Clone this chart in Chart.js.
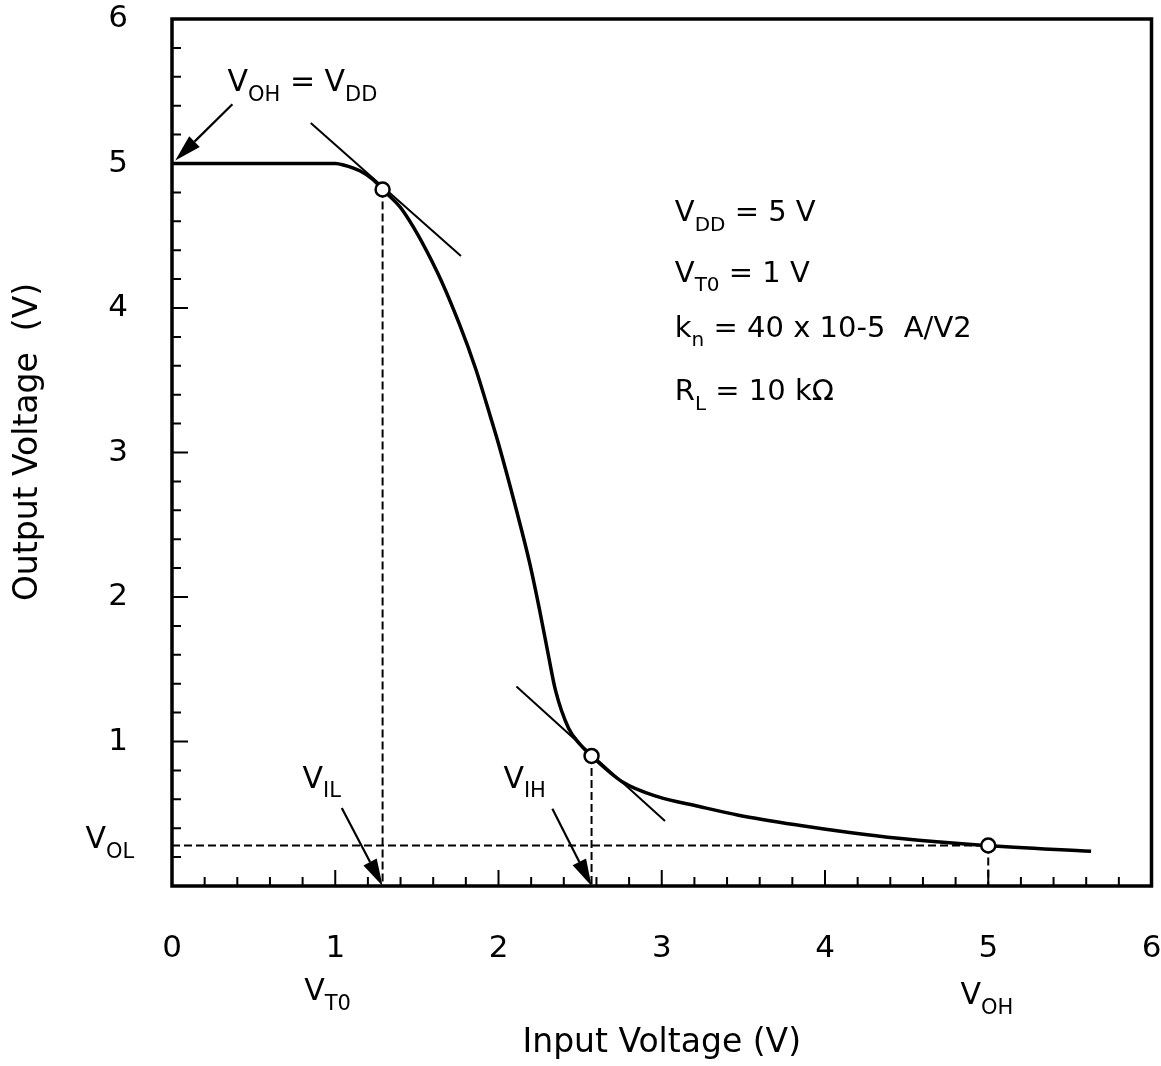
<!DOCTYPE html>
<html>
<head>
<meta charset="utf-8">
<script src="https://cdn.jsdelivr.net/npm/chart.js@4.4.1/dist/chart.umd.min.js"></script>
<style>
    html, body { margin: 0; padding: 0; background: #fff; }
</style>
</head>
<body>
<canvas id="vtc" width="1161" height="1066"></canvas>
<script>
const FONT = 'DejaVu Sans';

// Voltage transfer characteristic
const vin  = [0, 0.5, 1.0, 1.05, 1.15, 1.23, 1.29, 1.41, 1.62, 1.76, 1.86, 1.95, 2.0, 2.11, 2.19, 2.25, 2.30, 2.35, 2.43, 2.50, 2.57, 2.76, 2.97, 3.23, 3.47, 3.84, 4.15, 4.45, 4.98, 5.63];
const vout = [5.0, 5.0, 5.0, 4.99, 4.95, 4.89, 4.82, 4.68, 4.26, 3.89, 3.58, 3.25, 3.06, 2.60, 2.24, 1.92, 1.63, 1.35, 1.09, 0.98, 0.90, 0.72, 0.62, 0.55, 0.49, 0.42, 0.37, 0.33, 0.28, 0.24];

// slope -1 tangents at V_IL and V_IH
const tanILx = [0.85, 1.77];
const tanILy = [5.28, 4.36];
const tanIHx = [2.11, 3.02];
const tanIHy = [1.38, 0.45];

// critical points: V_IL, V_IH, V_OH
const critX = [1.29, 2.57, 5.0];
const critY = [4.82, 0.90, 0.28];
const VOL = 0.28;

const xTickLabels = ['0', '1', '2', '3', '4', '5', '6'];
const yTickLabels = ['', '1', '2', '3', '4', '5', '6'];

// annotations (data units)
const labels = [
    { text: 'V_{OH} = V_{DD}', x: 0.34, y: 5.50, size: 30 },
    { text: 'V_{DD} = 5 V', x: 3.08, y: 4.60, size: 29 },
    { text: 'V_{T0} = 1 V', x: 3.08, y: 4.18, size: 29 },
    { text: 'k_{n} = 40 x 10-5  A/V2', x: 3.08, y: 3.80, size: 29 },
    { text: 'R_{L} = 10 kΩ', x: 3.08, y: 3.36, size: 29 },
    { text: 'V_{IL}', x: 0.80, y: 0.68, size: 30 },
    { text: 'V_{IH}', x: 2.03, y: 0.68, size: 30 },
    { text: 'V_{OL}', x: -0.53, y: 0.26, size: 30 },
    { text: 'V_{T0}', x: 0.81, y: -0.79, size: 30 },
    { text: 'V_{OH}', x: 4.83, y: -0.82, size: 30 }
];
const arrows = [
    { from: [0.37, 5.41], to: [0.02, 5.02] },
    { from: [1.04, 0.54], to: [1.29, 0.0] },
    { from: [2.33, 0.535], to: [2.57, 0.0] }
];

const pts = (xs, ys) => xs.map((x, i) => ({ x: x, y: ys[i] }));

// text with _{sub} parts
function drawRich(ctx, str, x, y, size) {
    const subSize = Math.round(size * 0.7);
    const bits = str.split(/_\{([^}]*)\}/);
    bits.forEach((b, i) => {
        if (!b) return;
        const sub = i % 2 === 1;
        ctx.font = `${sub ? subSize : size}px "${FONT}"`;
        ctx.fillText(b, x, sub ? y + size * 0.32 : y);
        x += ctx.measureText(b).width;
    });
}

// keep the plot box fixed; tick padding should not eat into it
function noPad(s) {
    s.paddingTop = 0; s.paddingBottom = 0;
    s.paddingLeft = 0; s.paddingRight = 0;
}

const overlay = {
    id: 'overlay',
    beforeDraw(chart) {
        const ctx = chart.ctx;
        ctx.save();
        ctx.fillStyle = '#fff';
        ctx.fillRect(0, 0, chart.width, chart.height);
        ctx.restore();
    },
    afterDatasetsDraw(chart) {
        const ctx = chart.ctx;
        const { left, right, top, bottom } = chart.chartArea;
        const xs = chart.scales.x, ys = chart.scales.y;
        ctx.save();
        ctx.strokeStyle = '#000';
        ctx.fillStyle = '#000';

        // frame
        ctx.lineWidth = 3.5;
        ctx.strokeRect(left, top, right - left, bottom - top);

        // inward ticks every 0.2 on left and bottom
        ctx.lineWidth = 2;
        ctx.beginPath();
        for (let i = 1; i < 30; i++) {
            const major = i % 5 === 0;
            const len = major ? 16 : 9;
            const px = xs.getPixelForValue(i * 0.2);
            ctx.moveTo(px, bottom);
            ctx.lineTo(px, bottom - len);
            const py = ys.getPixelForValue(i * 0.2);
            ctx.moveTo(left, py);
            ctx.lineTo(left + len, py);
        }
        ctx.stroke();

        // arrows
        arrows.forEach(a => {
            const x0 = xs.getPixelForValue(a.from[0]), y0 = ys.getPixelForValue(a.from[1]);
            const x1 = xs.getPixelForValue(a.to[0]), y1 = ys.getPixelForValue(a.to[1]);
            const ang = Math.atan2(y1 - y0, x1 - x0);
            const hl = 27, hw = 7.5;
            const bx = x1 - hl * Math.cos(ang), by = y1 - hl * Math.sin(ang);
            ctx.lineWidth = 2.2;
            ctx.beginPath();
            ctx.moveTo(x0, y0);
            ctx.lineTo(bx, by);
            ctx.stroke();
            ctx.beginPath();
            ctx.moveTo(x1, y1);
            ctx.lineTo(bx + hw * Math.sin(ang), by - hw * Math.cos(ang));
            ctx.lineTo(bx - hw * Math.sin(ang), by + hw * Math.cos(ang));
            ctx.closePath();
            ctx.fill();
        });

        // labels
        ctx.textBaseline = 'alphabetic';
        ctx.textAlign = 'left';
        labels.forEach(l => {
            drawRich(ctx, l.text, xs.getPixelForValue(l.x), ys.getPixelForValue(l.y), l.size);
        });
        ctx.restore();
    }
};

const dashed = { borderColor: '#000', borderWidth: 2, borderDash: [8, 4], pointRadius: 0, fill: false };

new Chart(document.getElementById('vtc'), {
    type: 'line',
    data: {
        datasets: [
            {
                label: 'critical points',
                data: pts(critX, critY),
                showLine: false,
                pointRadius: 7,
                pointBorderWidth: 2.5,
                pointBorderColor: '#000',
                pointBackgroundColor: '#fff'
            },
            {
                label: 'VTC',
                data: pts(vin, vout),
                borderColor: '#000',
                borderWidth: 3.5,
                pointRadius: 0,
                cubicInterpolationMode: 'monotone'
            },
            { label: 'tangent IL', data: pts(tanILx, tanILy), borderColor: '#000', borderWidth: 2, pointRadius: 0 },
            { label: 'tangent IH', data: pts(tanIHx, tanIHy), borderColor: '#000', borderWidth: 2, pointRadius: 0 },
            { label: 'VOL', data: pts([0, critX[2]], [VOL, VOL]), ...dashed },
            { label: 'VIL drop', data: pts([critX[0], critX[0]], [critY[0], 0]), ...dashed },
            { label: 'VIH drop', data: pts([critX[1], critX[1]], [critY[1], 0]), ...dashed },
            { label: 'VOH drop', data: pts([critX[2], critX[2]], [critY[2], 0]), ...dashed }
        ]
    },
    options: {
        responsive: false,
        animation: false,
        devicePixelRatio: 1,
        layout: { padding: { top: 19, right: 6, left: 0, bottom: 0 } },
        plugins: { legend: { display: false }, tooltip: { enabled: false } },
        scales: {
            x: {
                type: 'linear',
                min: 0, max: 6,
                grid: { display: false, drawTicks: false },
                border: { display: false },
                ticks: {
                    stepSize: 1,
                    padding: 44,
                    color: '#000',
                    font: { family: FONT, size: 31 },
                    callback: (v, i) => xTickLabels[i]
                },
                title: {
                    display: true,
                    text: 'Input Voltage (V)',
                    color: '#000',
                    font: { family: FONT, size: 33 },
                    padding: { top: 0, bottom: 3 }
                },
                afterFit(s) { s.height = 180; noPad(s); }
            },
            y: {
                type: 'linear',
                min: 0, max: 6,
                grid: { display: false, drawTicks: false },
                border: { display: false },
                ticks: {
                    stepSize: 1,
                    padding: 44,
                    color: '#000',
                    font: { family: FONT, size: 31 },
                    callback: (v, i) => yTickLabels[i]
                },
                title: {
                    display: true,
                    text: '  Output Voltage  (V)',
                    color: '#000',
                    font: { family: FONT, size: 33 },
                    padding: { top: 9, bottom: 0 }
                },
                afterFit(s) { s.width = 172; noPad(s); }
            }
        }
    },
    plugins: [overlay]
});
</script>
</body>
</html>
